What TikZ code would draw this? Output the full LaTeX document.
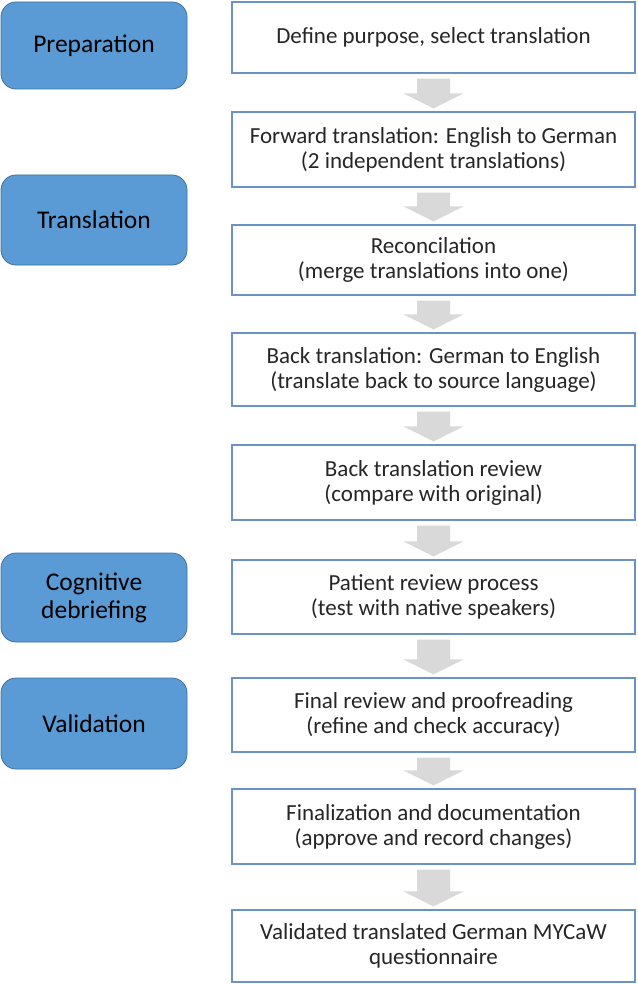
\documentclass[tikz,border=0pt]{standalone}
\usepackage{fontspec}
\setmainfont{Carlito}
\usetikzlibrary{calc}
\definecolor{phaseblue}{HTML}{5B9BD5}
\definecolor{phaseedge}{HTML}{41719C}
\definecolor{stepedge}{HTML}{6A93C4}
\definecolor{arrowgray}{HTML}{D9D9D9}
\tikzset{
  phase/.style={draw=phaseedge, fill=phaseblue, line width=0.8pt, rounded corners=15pt,
    minimum width=186pt, align=center, inner sep=0pt,
    font=\fontsize{25.5}{28}\selectfont, text=black},
  stepbox/.style={draw=stepedge, fill=white, line width=1.2pt,
    minimum width=403pt, align=center, inner sep=0pt,
    font=\fontsize{23}{25}\selectfont, text=black!85},
}
\newcommand\garrow[2]{%
  \fill[arrowgray] let \p1=(#1.south), \p2=(#2.north) in
    (\x1-16.5pt,\y1-5pt) -- (\x1+16.5pt,\y1-5pt) -- (\x1+16.5pt,\y2+18pt)
    -- (\x1+30pt,\y2+18pt) -- (\x1,\y2+3pt) -- (\x1-30pt,\y2+18pt)
    -- (\x1-16.5pt,\y2+18pt) -- cycle;}
\begin{document}
\begin{tikzpicture}[x=1pt,y=-1pt]
\useasboundingbox[fill=white] (0,0) rectangle (637,984);
% phases
\node[phase, minimum height=87pt] (p1) at (94,45.5) {Preparation};
\node[phase, minimum height=90pt] (p2) at (94,220) {Translation};
\node[phase, minimum height=89pt] (p3) at (94,597.5) {Cognitive\\debriefing};
\node[phase, minimum height=91pt] (p4) at (94,723.5) {Validation};
% steps
\node[stepbox, minimum height=71pt] (b1) at (433.5,37.5) {Define purpose, select translation};
\node[stepbox, minimum height=75pt] (b2) at (433.5,149.5) {Forward translation: English to German\\(2 independent translations)};
\node[stepbox, minimum height=70pt] (b3) at (433.5,260) {Reconcilation\\(merge translations into one)};
\node[stepbox, minimum height=73pt] (b4) at (433.5,369.5) {Back translation: German to English\\(translate back to source language)};
\node[stepbox, minimum height=75pt] (b5) at (433.5,482.5) {Back translation review\\(compare with original)};
\node[stepbox, minimum height=74pt] (b6) at (433.5,597) {Patient review process\\(test with native speakers)};
\node[stepbox, minimum height=74pt] (b7) at (433.5,715) {Final review and proofreading\\(refine and check accuracy)};
\node[stepbox, minimum height=75pt] (b8) at (433.5,826.5) {Finalization and documentation\\(approve and record changes)};
\node[stepbox, minimum height=72pt] (b9) at (433.5,946) {Validated translated German MYCaW\\questionnaire};
% arrows
\garrow{b1}{b2}
\garrow{b2}{b3}
\garrow{b3}{b4}
\garrow{b4}{b5}
\garrow{b5}{b6}
\garrow{b6}{b7}
\garrow{b7}{b8}
\garrow{b8}{b9}
\end{tikzpicture}
\end{document}
